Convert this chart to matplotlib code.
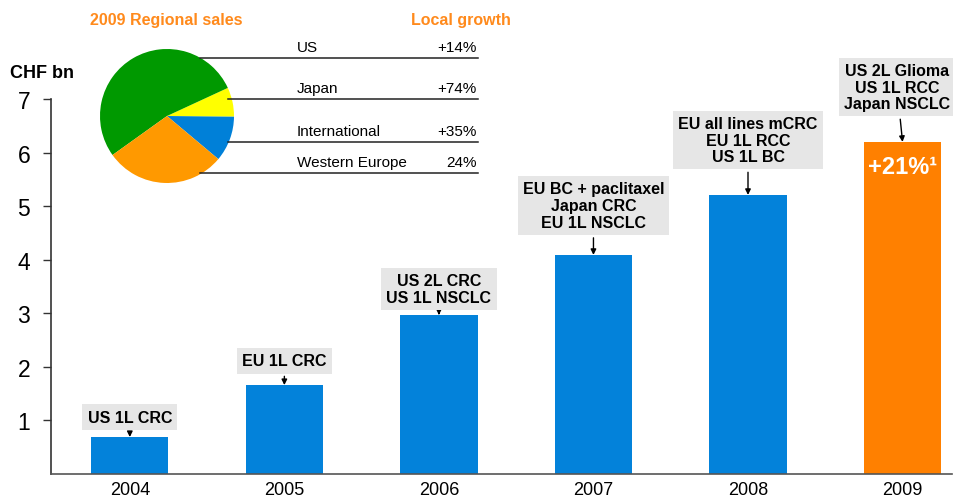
import matplotlib
matplotlib.use('Agg')
import matplotlib.pyplot as plt
from matplotlib.lines import Line2D

plt.rcParams['font.family'] = ['Liberation Sans', 'DejaVu Sans']

years = ['2004', '2005', '2006', '2007', '2008', '2009']
sales = [0.69, 1.66, 2.97, 4.09, 5.21, 6.20]
approvals = ['US 1L CRC',
             'EU 1L CRC',
             'US 2L CRC\nUS 1L NSCLC',
             'EU BC + paclitaxel\nJapan CRC\nEU 1L NSCLC',
             'EU all lines mCRC\nEU 1L RCC\nUS 1L BC',
             'US 2L Glioma\nUS 1L RCC\nJapan NSCLC']
growth_label = '+21%¹'

regions = ['International', 'Japan', 'US', 'Western Europe']
region_share = [11, 7, 53, 29]
region_colors = ['#0080d8', '#ffff00', '#009900', '#ff9900']
table_regions = ['US', 'Japan', 'International', 'Western Europe']
table_growth = ['+14%', '+74%', '+35%', '24%']

blue = '#0382da'
orange = '#ff8000'

W, H = 954, 502
fig = plt.figure(figsize=(W / 100, H / 100), dpi=100)


def fx(px):
    return px / W


def fy(py):
    return 1 - py / H


# main bar axes: y=0 at 475px, y=7 at 100px
ax = fig.add_axes([fx(51), fy(475), fx(952 - 51), (475 - 9) / H])
x = range(len(years))
colors = [blue] * (len(years) - 1) + [orange]
ax.bar(x, sales, width=0.5, color=colors, zorder=2)
ax.set_xlim(-0.51, 5.32)
ax.set_ylim(0, 8.7)
ax.set_yticks(range(1, 8))
ax.tick_params(axis='y', labelsize=16.5, length=6, width=1, color='#333333', pad=9)
ax.set_xticks(list(x))
ax.set_xticklabels(years)
ax.tick_params(axis='x', labelsize=13, length=0, pad=5)
for s in ['top', 'right']:
    ax.spines[s].set_visible(False)
ax.spines['left'].set_bounds(0, 7)
ax.spines['left'].set_color('#333333')
ax.spines['bottom'].set_color('#555555')
ax.spines['left'].set_linewidth(1.2)
ax.spines['bottom'].set_linewidth(1.2)

# label box offsets in points (dx, dy from bar top)
offsets = [(0, 9), (0, 12), (0, 7), (0, 18), (0, 22), (-4, 22)]
for i, (v, lab) in enumerate(zip(sales, approvals)):
    ax.annotate(lab, xy=(i, v), xytext=offsets[i], textcoords='offset points',
                ha='center', va='bottom', fontsize=11.5, fontweight='bold',
                linespacing=1.15, annotation_clip=False,
                bbox=dict(boxstyle='square,pad=0.32', fc='#e6e6e6', ec='none'),
                arrowprops=dict(arrowstyle='-|>', color='k', lw=1,
                                mutation_scale=8, shrinkA=2, shrinkB=0))

ax.text(5, sales[5] - 0.45, growth_label, ha='center', va='center',
        color='white', fontsize=17, fontweight='bold')

fig.text(fx(10), fy(73), 'CHF bn', fontsize=13, fontweight='bold', va='center')

# pie inset
r = 67
pax = fig.add_axes([fx(167 - r), fy(117 + r), fx(2 * r), 2 * r / H])
pax.pie(region_share, colors=region_colors, startangle=-40, counterclock=True,
        wedgeprops=dict(linewidth=0))
pax.set_xlim(-1, 1)
pax.set_ylim(-1, 1)
pax.set_aspect('equal')
pax.axis('off')

fig.text(fx(166), fy(20), '2009 Regional sales', color='#ff8a1c', fontsize=11.5,
         fontweight='bold', ha='center', va='center')
fig.text(fx(461), fy(20), 'Local growth', color='#ff8a1c', fontsize=11.5,
         fontweight='bold', ha='center', va='center')

line_y = [59, 100, 143, 174]
line_x0 = [200, 228, 228, 200]
for name, g, ly, lx in zip(table_regions, table_growth, line_y, line_x0):
    fig.add_artist(Line2D([fx(lx), fx(478)], [fy(ly), fy(ly)], color='#222222', lw=1.1))
    fig.text(fx(297), fy(ly - 4), name, fontsize=11, va='bottom', ha='left')
    fig.text(fx(477), fy(ly - 4), g, fontsize=11, va='bottom', ha='right')

fig.savefig('out.png', dpi=100)
